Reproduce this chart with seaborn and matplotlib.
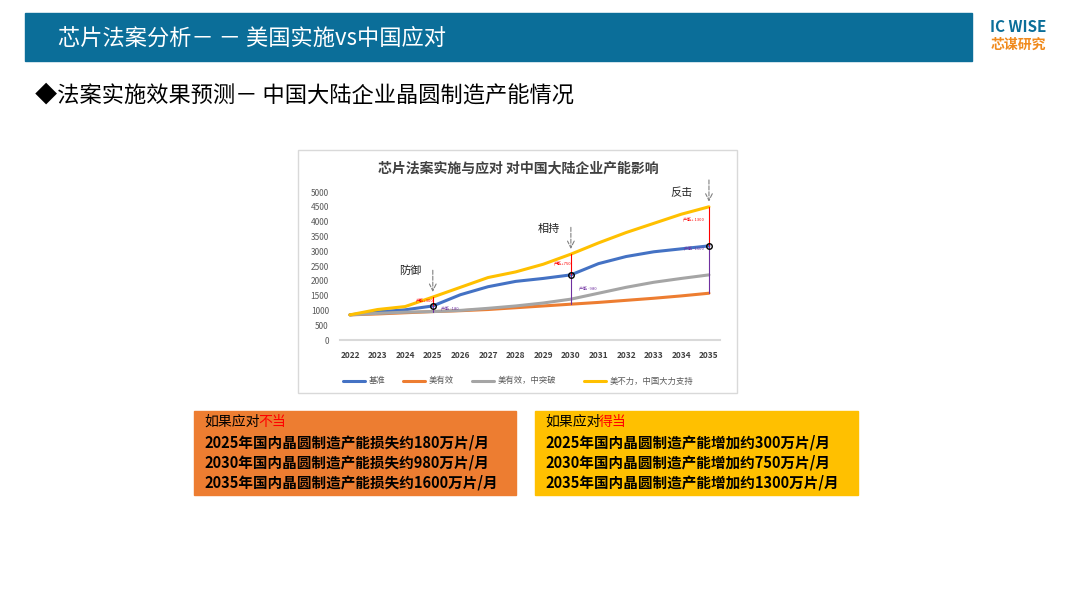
import matplotlib
matplotlib.use("Agg")
import matplotlib.pyplot as plt
import seaborn as sns
import pandas as pd
from matplotlib.patches import Rectangle

years = [str(y) for y in range(2022, 2036)]
base = [850, 950, 1020, 1150, 1530, 1800, 1980, 2080, 2200, 2580, 2820, 2980, 3080, 3180]
us_eff = [850, 880, 920, 960, 990, 1030, 1090, 1150, 1210, 1270, 1340, 1410, 1490, 1580]
us_eff_break = [850, 900, 940, 960, 1000, 1070, 1150, 1250, 1380, 1580, 1780, 1950, 2080, 2200]
us_weak = [850, 1030, 1130, 1450, 1780, 2110, 2300, 2560, 2900, 3280, 3630, 3940, 4250, 4500]
series_names = ["基准", "美有效", "美有效，中突破", "美不力，中国大力支持"]
colors = ["#4472C4", "#ED7D31", "#A5A5A5", "#FFC000"]
stages = [(3, "防御", "产能+300", "产能 -180"), (8, "相持", "产能+750", "产能 -980"),
          (13, "反击", "产能+ 1300", "产能 -1600")]
left_lines = ["2025年国内晶圆制造产能损失约180万片/月", "2030年国内晶圆制造产能损失约980万片/月",
              "2035年国内晶圆制造产能损失约1600万片/月"]
right_lines = ["2025年国内晶圆制造产能增加约300万片/月", "2030年国内晶圆制造产能增加约750万片/月",
               "2035年国内晶圆制造产能增加约1300万片/月"]

sns.set_theme(style="white")
plt.rcParams["font.family"] = ["Noto Sans CJK SC", "DejaVu Sans"]

W, H = 1080, 608
fig = plt.figure(figsize=(W / 100, H / 100), dpi=100)


def px(x, y):
    return x / W, 1 - y / H


def rect(x0, y0, x1, y1, **kw):
    fig.patches.append(Rectangle(px(x0, y1), (x1 - x0) / W, (y1 - y0) / H,
                                 transform=fig.transFigure, **kw))


# header
rect(25, 13, 972, 61, color="#0B6E99")
fig.text(*px(58, 38), "芯片法案分析－ － 美国实施vs中国应对", color="white", fontsize=16, va="center")
fig.text(*px(1018, 27), "IC WISE", color="#0B6E99", fontsize=11, fontweight="bold", ha="center", va="center")
fig.text(*px(1018, 45), "芯谋研究", color="#F08A1C", fontsize=10, fontweight="bold", ha="center", va="center")
fig.text(*px(35, 95), "◆法案实施效果预测－ 中国大陆企业晶圆制造产能情况", color="black", fontsize=16,
         va="center", family=["Noto Sans CJK SC", "DejaVu Sans"])

# chart frame
rect(298, 150, 737, 393, facecolor="white", edgecolor="#D9D9D9", lw=1, zorder=-1)
fig.text(*px(518, 169), "芯片法案实施与应对 对中国大陆企业产能影响", fontsize=10, fontweight="bold",
         color="#404040", ha="center", va="center")

ax = fig.add_axes([340 / W, 1 - 340 / H, 380 / W, 148 / H])
ax.set_zorder(3)
df = pd.DataFrame({"year": years * 4,
                   "value": base + us_eff + us_eff_break + us_weak,
                   "series": sum([[n] * len(years) for n in series_names], [])})
df["x"] = df.groupby("series").cumcount()
sns.lineplot(data=df, x="x", y="value", hue="series", palette=colors, linewidth=2.2, ax=ax, legend=False)
ax.set_xlim(-0.36, 13.4)
ax.set_ylim(0, 5000)
ax.set_yticks(range(0, 5001, 500))
ax.set_xticks(range(len(years)))
ax.set_xticklabels(years, fontsize=6, fontweight="bold", color="#404040")
ax.tick_params(axis="y", labelsize=6, labelcolor="#595959", pad=2)
ax.tick_params(axis="x", pad=8, length=0)
ax.set_xlabel("")
ax.set_ylabel("")
for s in ["top", "right", "left"]:
    ax.spines[s].set_visible(False)
ax.spines["bottom"].set_color("#D9D9D9")
ax.spines["bottom"].set_linewidth(1.5)
ax.patch.set_alpha(0)

for i, label, up, down in stages:
    ax.plot([i, i], [base[i], us_weak[i]], color="red", lw=0.8, zorder=5)
    ax.plot([i, i], [us_eff[i], base[i]], color="#7030A0", lw=0.8, zorder=5)
    ax.plot(i, base[i], "o", mfc="none", mec="black", ms=4, mew=1, zorder=6)
    ax.annotate("", xy=(i, us_weak[i] + 80), xytext=(i, us_weak[i] + 1000),
                arrowprops=dict(arrowstyle="->", ls="--", color="#808080", lw=0.8), annotation_clip=False)
    ax.text(i - 0.4 if i < 13 else i - 0.6, us_weak[i] + 700 if i < 13 else 4800, label, fontsize=8,
            color="#262626", ha="right", va="bottom")
    ax.text(i - 0.3 if i < 13 else i - 0.2, (base[i] + us_weak[i]) / 2 + (0 if i < 13 else 200),
            up, fontsize=3, color="red", ha="center" if i < 13 else "right")
    ax.text(i + 0.3 if i < 13 else i - 0.2, (us_eff[i] + base[i]) / 2 + (0 if i < 13 else 700),
            down, fontsize=3, color="#7030A0", ha="left" if i < 13 else "right")

# legend
for k, (name, c) in enumerate(zip(series_names, colors)):
    x0 = [343, 403, 472, 584][k]
    fig.lines.append(plt.Line2D([x0 / W, (x0 + 22) / W], [1 - 381 / H] * 2, color=c, lw=2.2,
                                transform=fig.transFigure))
    fig.text(*px(x0 + 26, 381), name, fontsize=6, color="#595959", va="center")

# boxes
rect(194, 411, 516, 495, color="#ED7D31")
rect(535, 411, 858, 495, color="#FFC000")
for x0, title, lines in [(204, "如果应对不当", left_lines), (545, "如果应对得当", right_lines)]:
    fig.text(*px(x0, 422), title[:4], fontsize=10, color="black", va="center")
    fig.text(*px(x0 + 54, 422), title[4:], fontsize=10, color="red", va="center")
    for j, line in enumerate(lines):
        fig.text(*px(x0, 443 + j * 20), line, fontsize=10.5, color="black", va="center",
                 fontweight="bold")

fig.savefig("out.png", dpi=100)
